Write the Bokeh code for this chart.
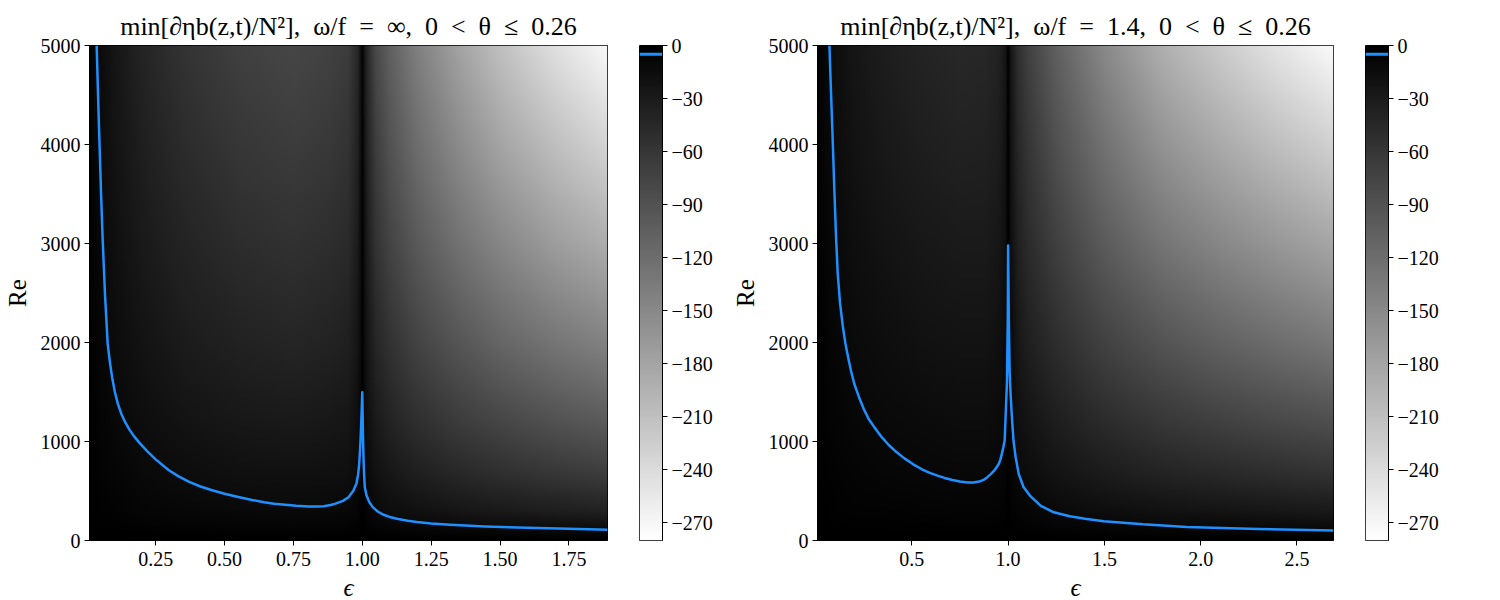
import numpy as np
from bokeh.plotting import figure
from bokeh.layouts import row
from bokeh.models import (LinearColorMapper, FixedTicker, NumeralTickFormatter,
                          Range1d, CustomJSTickFormatter)
from bokeh.embed import file_html
from bokeh.resources import INLINE

# ---------------- data ----------------
re_nodes = [0, 300, 700, 1200, 2000, 3000, 4000, 5000]

# panel 1: omega/f = infinity
eps_nodes_inf = [0.01, 0.05, 0.1, 0.2, 0.35, 0.55, 0.75, 0.88, 0.95, 0.985, 1.0,
                 1.015, 1.05, 1.1, 1.2, 1.35, 1.5, 1.7, 1.89]
field_inf = [
    [0] * 19,
    [-1, -2, -3, -6, -8, -10, -11, -10, -9, -6, 0, -6, -11, -15, -19, -25, -29, -34, -38],
    [-1, -4, -6, -10, -14, -18, -19, -18, -17, -11, -1, -10, -20, -26, -35, -45, -53, -62, -69],
    [-1, -5, -9, -15, -21, -26, -28, -26, -24, -15, -1, -15, -29, -39, -52, -66, -77, -90, -100],
    [-2, -7, -13, -21, -30, -37, -41, -38, -35, -22, -2, -21, -42, -55, -74, -94, -111, -129, -143],
    [-3, -10, -17, -28, -39, -49, -54, -50, -46, -29, -2, -28, -56, -74, -98, -125, -147, -172, -190],
    [-3, -12, -21, -34, -48, -60, -66, -62, -56, -36, -3, -34, -68, -90, -120, -152, -180, -209, -233],
    [-4, -14, -24, -40, -56, -70, -77, -72, -66, -42, -3, -40, -80, -105, -140, -178, -210, -245, -272],
]
curve_eps_inf = [0.036, 0.041, 0.046, 0.052, 0.058, 0.066, 0.076, 0.084, 0.092, 0.102,
                 0.113, 0.126, 0.14, 0.155, 0.172, 0.193, 0.22, 0.249, 0.298, 0.335,
                 0.37, 0.41, 0.458, 0.5, 0.55, 0.6, 0.643, 0.68, 0.72, 0.76, 0.804,
                 0.835, 0.86, 0.885, 0.903, 0.93, 0.95, 0.967, 0.979, 0.985, 0.989,
                 0.9935, 0.997, 1.0, 1.002, 1.004, 1.006, 1.009, 1.015, 1.025, 1.038,
                 1.055, 1.075, 1.099, 1.13, 1.165, 1.198, 1.25, 1.32, 1.445, 1.6, 1.75,
                 1.89]
curve_re_inf = [5000, 4500, 4040, 3500, 3030, 2500, 1986, 1802, 1650, 1500,
                1380, 1276, 1192, 1120, 1052, 981, 900, 822, 709, 645,
                595, 548, 505, 473, 440, 410, 387, 372, 360, 350, 343,
                343, 347, 358, 373, 400, 437, 500, 575, 670, 777,
                1000, 1250, 1498, 1150, 880, 700, 540, 460, 390, 337,
                295, 263, 238, 217, 199, 186, 172, 159, 142, 129, 118,
                108]

# panel 2: omega/f = 1.4
eps_nodes_14 = [0.01, 0.05, 0.1, 0.2, 0.35, 0.55, 0.75, 0.88, 0.95, 0.985, 1.0,
                1.015, 1.05, 1.1, 1.25, 1.5, 1.8, 2.1, 2.4, 2.69]
field_14 = [
    [0] * 20,
    [0, -1, -2, -3, -3, -4, -5, -5, -4, -3, 0, -3, -5, -7, -11, -16, -20, -23, -26, -29],
    [-1, -2, -3, -5, -7, -8, -9, -9, -8, -5, 0, -5, -11, -14, -22, -31, -40, -46, -52, -57],
    [-1, -3, -5, -8, -10, -12, -14, -14, -12, -8, -1, -8, -17, -22, -33, -48, -61, -71, -80, -87],
    [-1, -4, -7, -12, -15, -19, -21, -21, -18, -12, -1, -12, -25, -34, -50, -72, -92, -107, -120, -132],
    [-2, -6, -10, -16, -21, -26, -29, -29, -25, -17, -1, -17, -35, -47, -70, -100, -128, -148, -166, -182],
    [-3, -8, -13, -20, -27, -33, -37, -36, -32, -21, -2, -21, -43, -58, -88, -125, -161, -186, -209, -229],
    [-3, -9, -15, -24, -32, -39, -44, -43, -38, -25, -2, -25, -52, -70, -105, -150, -192, -222, -250, -274],
]
curve_eps_14 = [0.072, 0.08, 0.089, 0.097, 0.106, 0.115, 0.127, 0.141, 0.155, 0.17, 0.185,
                0.201, 0.225, 0.25, 0.275, 0.305, 0.34, 0.38, 0.42, 0.46, 0.505, 0.55,
                0.59, 0.633, 0.67, 0.71, 0.75, 0.789, 0.82, 0.85, 0.872, 0.892, 0.91,
                0.925, 0.94, 0.952, 0.96, 0.968, 0.975, 0.982, 0.988, 0.994, 0.998, 1.0,
                1.004, 1.008, 1.013, 1.018, 1.023, 1.028, 1.039, 1.055, 1.08, 1.117,
                1.17, 1.237, 1.32, 1.4, 1.497, 1.7, 1.928, 2.3, 2.69]
curve_re_14 = [5000, 4540, 4040, 3570, 3080, 2700, 2400, 2170, 1990, 1840, 1705,
               1583, 1450, 1330, 1230, 1145, 1052, 965, 893, 832, 772, 722,
               686, 655, 632, 611, 595, 586, 587, 595, 612, 640, 670,
               700, 740, 775, 820, 880, 940, 1010, 1300, 1600, 2200, 2980,
               2200, 1700, 1480, 1300, 1150, 1010, 842, 673, 540, 445,
               350, 285, 245, 220, 195, 163, 137, 115, 101]

eps_range_inf = (0.01, 1.89)
eps_range_14 = (0.01, 2.69)
xticks_inf = [0.25, 0.5, 0.75, 1.0, 1.25, 1.5, 1.75]
xticks_14 = [0.5, 1.0, 1.5, 2.0, 2.5]
yticks = [0, 1000, 2000, 3000, 4000, 5000]
cbar_ticks = [0, -30, -60, -90, -120, -150, -180, -210, -240, -270]
cbar_low, cbar_high = -280, 0
cbar_line_level = -5
SP = "\u2002"
titles = ["min[∂ηb(z,t)/N²]," + SP + "ω/f" + SP + "=" + SP + "∞," + SP + "0" + SP + "<" + SP + "θ" + SP + "≤" + SP + "0.26",
          "min[∂ηb(z,t)/N²]," + SP + "ω/f" + SP + "=" + SP + "1.4," + SP + "0" + SP + "<" + SP + "θ" + SP + "≤" + SP + "0.26"]

# ---------------- styling ----------------
FONT = "Liberation Serif"
BLUE = "#1e90ff"
palette = ["#%02x%02x%02x" % (v, v, v) for v in range(255, -1, -1)]
mapper = LinearColorMapper(palette=palette, low=cbar_low, high=cbar_high,
                           high_color="black", low_color="white")

FH = 495
TOP, BOTTOM = 45, 55


def upsample(eps_nodes, grid, eps_lo, eps_hi, nx=700, ny=500):
    g = np.array(grid, dtype=float)
    ef = np.linspace(eps_lo, eps_hi, nx)
    rf = np.linspace(0, 5000, ny)
    tmp = np.array([np.interp(ef, eps_nodes, r) for r in g])
    out = np.array([np.interp(rf, re_nodes, tmp[:, j]) for j in range(nx)]).T
    return out


def style_axis(ax):
    ax.axis_line_color = "black"
    ax.major_tick_line_color = "black"
    ax.major_tick_out = 5
    ax.major_tick_in = 0
    ax.minor_tick_line_color = None
    ax.major_label_text_font = FONT
    ax.major_label_text_font_size = "20px"
    ax.major_label_text_color = "black"
    ax.axis_label_text_font = FONT
    ax.axis_label_text_font_size = "25px"
    ax.axis_label_text_color = "black"


def main_fig(title, eps_nodes, grid, erange, xticks, xfmt, ce, cr, fw, left):
    p = figure(frame_width=fw, frame_height=FH,
               x_range=Range1d(*erange), y_range=Range1d(0, 5000),
               min_border_left=left, min_border_right=10,
               min_border_top=TOP, min_border_bottom=BOTTOM,
               output_backend="svg", toolbar_location=None)
    img = upsample(eps_nodes, grid, *erange)
    p.image(image=[img], x=erange[0], y=0, dw=erange[1] - erange[0], dh=5000,
            color_mapper=mapper)
    p.line(ce, cr, line_color=BLUE, line_width=2.5, line_join="round")
    p.grid.visible = False
    p.outline_line_color = "black"
    p.outline_line_alpha = 1
    p.title.text = title
    p.title.align = "center"
    p.title.text_font = FONT
    p.title.text_font_size = "26px"
    p.title.text_font_style = "normal"
    p.title.text_color = "black"
    p.title.standoff = 10
    for ax in (p.xaxis[0], p.yaxis[0]):
        style_axis(ax)
    p.xaxis.ticker = FixedTicker(ticks=xticks)
    p.xaxis.formatter = NumeralTickFormatter(format=xfmt)
    p.xaxis.axis_label = "ϵ"
    p.xaxis.axis_label_text_font_style = "italic"
    p.xaxis.axis_label_standoff = 5
    p.yaxis.ticker = FixedTicker(ticks=yticks)
    p.yaxis.formatter = NumeralTickFormatter(format="0")
    p.yaxis.axis_label = "Re"
    p.yaxis.axis_label_text_font_style = "normal"
    p.yaxis.axis_label_standoff = 7
    p.yaxis.major_label_standoff = 4
    p.xaxis.major_label_standoff = 6
    return p


def cbar_fig():
    c = figure(frame_width=23, frame_height=FH,
               x_range=Range1d(0, 1), y_range=Range1d(cbar_low, cbar_high),
               x_axis_location=None, y_axis_location="right",
               min_border_left=22, min_border_right=66,
               min_border_top=TOP, min_border_bottom=BOTTOM,
               output_backend="svg", toolbar_location=None)
    vals = np.linspace(cbar_low, cbar_high, 300).reshape(-1, 1)
    c.image(image=[vals], x=0, y=cbar_low, dw=1, dh=cbar_high - cbar_low,
            color_mapper=mapper)
    c.line([0, 1], [cbar_line_level, cbar_line_level], line_color=BLUE, line_width=3)
    c.grid.visible = False
    c.outline_line_color = "black"
    style_axis(c.yaxis[0])
    c.yaxis.ticker = FixedTicker(ticks=cbar_ticks)
    c.yaxis.formatter = CustomJSTickFormatter(
        code="return tick == 0 ? '0' : '\u2212' + Math.abs(tick);")
    c.yaxis.major_label_standoff = 4
    return c


f1 = main_fig(titles[0], eps_nodes_inf, field_inf, eps_range_inf, xticks_inf, "0.00",
              curve_eps_inf, curve_re_inf, 518, 89)
c1 = cbar_fig()
f2 = main_fig(titles[1], eps_nodes_14, field_14, eps_range_14, xticks_14, "0.0",
              curve_eps_14, curve_re_14, 516, 89)
c2 = cbar_fig()

layout = row(f1, c1, f2, c2)
open("out.html", "w").write(file_html(layout, INLINE))
